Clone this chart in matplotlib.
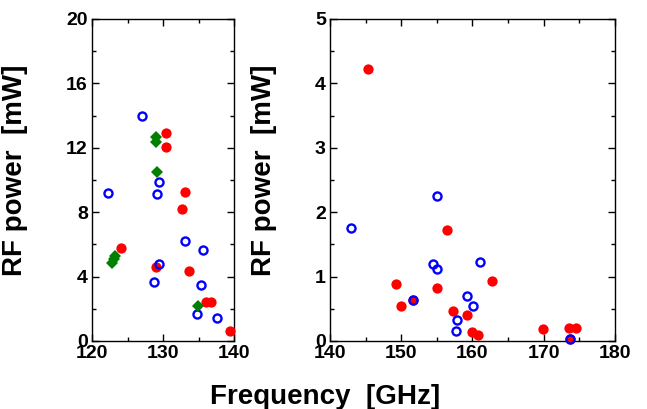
import matplotlib
matplotlib.use('Agg')
from matplotlib import pyplot as plt
from matplotlib.ticker import MultipleLocator

plt.rcParams.update({'font.family': 'Liberation Sans', 'font.weight': 'bold', 'font.size': 14})

# left panel: 120-140 GHz
left_red_f = [130.4, 130.4, 133.1, 132.7, 124.1, 129.0, 133.7, 136.1, 136.8, 139.4]
left_red_p = [12.9, 12.05, 9.25, 8.2, 5.8, 4.62, 4.37, 2.45, 2.45, 0.64]
left_blue_f = [127.1, 129.4, 129.1, 122.3, 133.1, 135.6, 129.4, 128.8, 135.3, 134.8, 137.6]
left_blue_p = [14.0, 9.88, 9.1, 9.2, 6.23, 5.65, 4.78, 3.69, 3.46, 1.70, 1.45]
left_green_f = [129.0, 129.0, 129.1, 123.3, 123.1, 122.8, 134.9]
left_green_p = [12.65, 12.34, 10.5, 5.3, 5.1, 4.87, 2.2]

# right panel: 140-180 GHz
right_red_f = [145.3, 149.2, 150.0, 151.6, 155.0, 156.4, 162.7, 157.2, 159.2, 160.0, 160.8, 169.9, 173.5, 174.5, 173.7]
right_red_p = [4.22, 0.885, 0.55, 0.63, 0.83, 1.72, 0.93, 0.47, 0.41, 0.14, 0.10, 0.18, 0.20, 0.20, 0.025]
right_blue_f = [142.9, 155.0, 154.5, 155.0, 151.6, 161.0, 159.3, 160.1, 157.8, 157.7, 173.7]
right_blue_p = [1.75, 2.25, 1.20, 1.11, 0.63, 1.23, 0.70, 0.55, 0.32, 0.155, 0.025]

fig = plt.figure(figsize=(6.47, 4.09), dpi=100)
ax1 = fig.add_axes([0.1422, 0.1663, 0.2195, 0.7873])
ax2 = fig.add_axes([0.510, 0.1663, 0.4405, 0.7873])


def draw(ax, red_f, red_p, blue_f, blue_p, green_f=None, green_p=None):
    ax.plot(red_f, red_p, 'o', color='red', markersize=7.4, markeredgewidth=0, clip_on=False, zorder=3)
    ax.plot(blue_f, blue_p, 'o', markerfacecolor='none', markeredgecolor='blue', markersize=5.8,
            markeredgewidth=1.7, clip_on=False, zorder=4)
    if green_f is not None:
        ax.plot(green_f, green_p, 'D', color='green', markersize=6.5, markeredgewidth=0, clip_on=False, zorder=5)


draw(ax1, left_red_f, left_red_p, left_blue_f, left_blue_p, left_green_f, left_green_p)
draw(ax2, right_red_f, right_red_p, right_blue_f, right_blue_p)

ax1.set_xlim(120, 140)
ax1.set_ylim(0, 20)
ax1.xaxis.set_major_locator(MultipleLocator(10))
ax1.xaxis.set_minor_locator(MultipleLocator(5))
ax1.yaxis.set_major_locator(MultipleLocator(4))
ax1.yaxis.set_minor_locator(MultipleLocator(2))

ax2.set_xlim(140, 180)
ax2.set_ylim(0, 5)
ax2.xaxis.set_major_locator(MultipleLocator(10))
ax2.xaxis.set_minor_locator(MultipleLocator(5))
ax2.yaxis.set_major_locator(MultipleLocator(1))
ax2.yaxis.set_minor_locator(MultipleLocator(0.5))

for ax in (ax1, ax2):
    ax.tick_params(which='both', direction='in', top=True, right=True, width=1.0, labelsize=14, pad=3)
    ax.tick_params(which='major', length=5)
    ax.tick_params(which='minor', length=3)
    for s in ax.spines.values():
        s.set_linewidth(1.0)
    ax.set_ylabel('RF power  [mW]', fontsize=20, fontweight='bold')

ax1.yaxis.set_label_coords(-0.45, 0.53)
ax2.yaxis.set_label_coords(-0.186, 0.53)

fig.text(0.502, 0.03, 'Frequency  [GHz]', fontsize=20, fontweight='bold', ha='center', va='center')

fig.savefig('out.png', dpi=100)
